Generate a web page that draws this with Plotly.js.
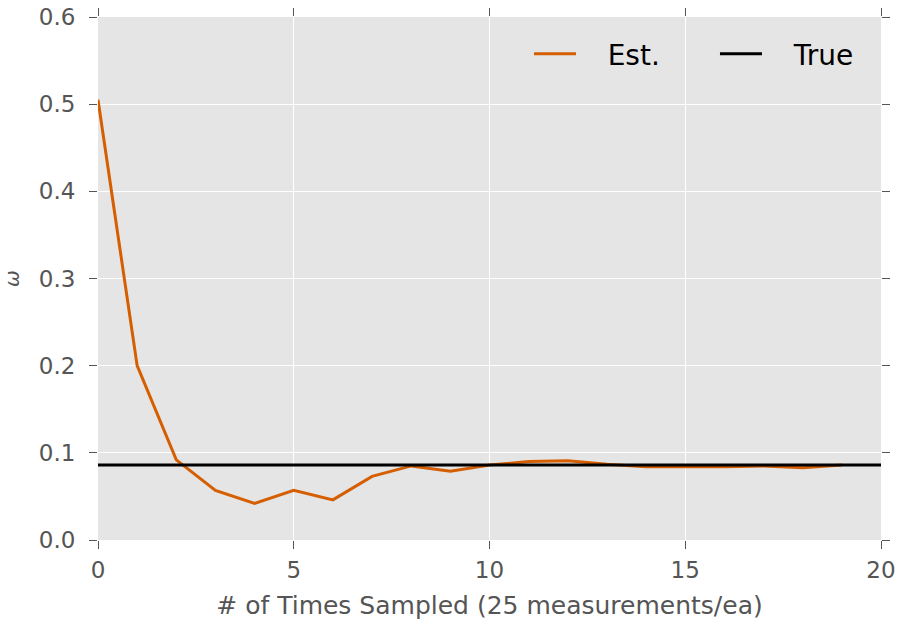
<!DOCTYPE html>
<html>
<head>
<meta charset="utf-8">
<script src="https://cdn.plot.ly/plotly-3.0.1.min.js"></script>
<style>html,body{margin:0;padding:0;background:#fff;}#chart{width:901px;height:629px;}</style>
</head>
<body>
<div id="chart"></div>
<script>
const samples = [0,1,2,3,4,5,6,7,8,9,10,11,12,13,14,15,16,17,18,19];
const estOmega = [0.505,0.200,0.092,0.057,0.042,0.057,0.046,0.073,0.085,0.079,0.086,0.090,0.091,0.087,0.084,0.084,0.084,0.085,0.083,0.086];
const trueX = [0,20];
const trueOmega = [0.086,0.086];
const tickVals = [0,0.1,0.2,0.3,0.4,0.5,0.6];
const tickText = ['0.0','0.1','0.2','0.3','0.4','0.5','0.6'];
const pad = '\u00a0\u00a0\u00a0';

const traces = [
  {x: samples, y: estOmega, type:'scatter', mode:'lines', name: pad + 'Est.',
   line:{color:'#D55E00', width:3}},
  {x: trueX, y: trueOmega, type:'scatter', mode:'lines', name: pad + 'True',
   line:{color:'#000000', width:3}}
];
const axisCommon = {
  showgrid:true, gridcolor:'#ffffff', gridwidth:1, zeroline:false,
  showline:false, ticks:'outside', ticklen:8, tickcolor:'#555555', tickwidth:1,
  mirror:'ticks', tickfont:{family:'DejaVu Sans', size:23, color:'#555555'}
};
const layout = {
  width:901, height:629,
  margin:{l:98, r:20, t:17, b:89, autoexpand:false},
  paper_bgcolor:'#ffffff', plot_bgcolor:'#E5E5E5',
  font:{family:'DejaVu Sans', color:'#000'},
  showlegend:true,
  legend:{orientation:'h', x:0.5504, xanchor:'left', y:0.977, yanchor:'top',
          itemwidth:42, entrywidth:129, entrywidthmode:'pixels',
          bgcolor:'rgba(0,0,0,0)', font:{family:'DejaVu Sans', size:28, color:'#000'}},
  xaxis: Object.assign({}, axisCommon, {range:[0,20], tickvals:[0,5,10,15,20],
          ticklabelstandoff:1,
          title:{text:'# of Times Sampled (25 measurements/ea)', font:{family:'DejaVu Sans', size:25, color:'#555555'}, standoff:14}}),
  yaxis: Object.assign({}, axisCommon, {range:[0,0.6], tickvals:tickVals, ticktext:tickText,
          ticklabelstandoff:9,
          title:{text:'<i>ω</i>', font:{family:'DejaVu Sans', size:20, color:'#555555'}, standoff:13}})
};
Plotly.newPlot('chart', traces, layout, {displayModeBar:false});
</script>
</body>
</html>
